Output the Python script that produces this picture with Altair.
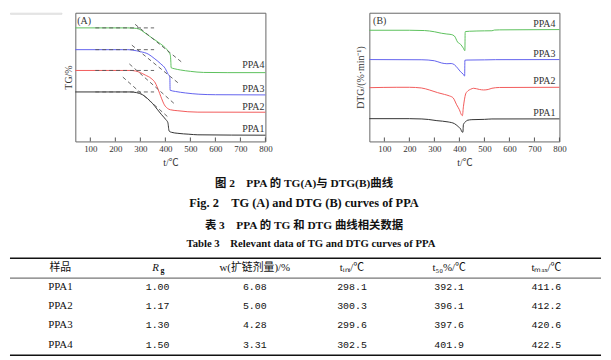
import altair as alt
import pandas as pd

SERIF = "Liberation Serif, Noto Sans CJK SC"
MONO = "Liberation Mono, Noto Sans CJK SC"
TXT = "#333333"

samples = ["PPA1", "PPA2", "PPA3", "PPA4"]
line_colors = ["#333333", "#f25a5a", "#6262ee", "#5cc05c"]
x_ticks = [100, 200, 300, 400, 500, 600, 700, 800]

# ---------- (A) TG curves: temperature (°C) / stacked TG level (arbitrary units) ----------
tg1_t = [40, 260, 285, 310, 330, 350, 369, 385, 402, 410, 415, 425, 450, 494, 530, 800]
tg1_v = [50, 50, 49.3, 47, 43, 38, 32, 27, 22, 19, 10.5, 9.2, 8.2, 7.3, 6.7, 6.3]
tg2_t = [40, 260, 280, 300, 320, 343, 360, 372, 382, 396, 408, 420, 450, 490, 530, 800]
tg2_v = [71.7, 71.7, 71.2, 69.5, 67, 63.7, 59, 52, 45.3, 37, 33.5, 32, 31, 30, 29.6, 29.5]
tg3_t = [40, 250, 270, 300, 331, 355, 382, 400, 410, 416, 418, 419, 440, 480, 534, 600, 800]
tg3_v = [92.7, 92.7, 92.2, 90.7, 88.3, 84, 78.3, 73.5, 68.3, 66, 64, 51.7, 50.5, 49, 47.7, 47.2, 47]
tg4_t = [40, 250, 275, 295, 311, 330, 350, 382, 400, 414, 420, 422, 423, 435, 460, 500, 553, 650, 800]
tg4_v = [114.7, 114.7, 114.4, 113.5, 111, 107.5, 104, 98.3, 94.5, 90, 87, 80, 74.5, 73.5, 72.2, 70.8, 69.7, 69.5, 69.5]

# onset construction lines (dashed): plateau extension and tangent, per sample
plateau_t = [120, 355]
tangent_t = [[230, 409], [256, 435], [266, 455], [279, 469]]
tangent_v = [[65, 25], [78.3, 38.3], [97.3, 58.3], [118.3, 79.3]]
tg_label_v = [9.3, 32, 50.3, 74.5]

# ---------- (B) DTG curves ----------
dtg1_t = [40, 200, 250, 276, 310, 355, 380, 394, 405, 411, 414, 416, 425, 431, 450, 500, 530, 800]
dtg1_v = [23, 23, 22.7, 22.2, 21, 19.7, 18, 15.3, 12.5, 9.5, 9.3, 17, 20, 21.3, 22, 22.3, 22.7, 22.8]
dtg2_t = [40, 150, 200, 248, 280, 313, 340, 360, 375, 389, 400, 408, 412, 416, 420, 425, 431, 445, 457, 480, 497, 515, 530, 560, 800]
dtg2_v = [54.3, 54.7, 54.7, 54, 52, 49.3, 47.5, 46, 44, 37, 32, 27, 26, 35, 42, 48, 50.3, 52.7, 53.7, 52.5, 52, 52.5, 53.7, 54.5, 54.7]
dtg3_t = [40, 250, 300, 328, 350, 367, 380, 393, 405, 415, 421, 422, 430, 500, 545, 800]
dtg3_v = [82.7, 82.5, 81.5, 79.3, 78.5, 78.7, 77.5, 74, 70.3, 68, 66, 82, 82.2, 82.4, 82.6, 82.7]
dtg4_t = [40, 200, 261, 300, 328, 350, 367, 380, 393, 405, 415, 422, 423, 424, 440, 500, 530, 540, 560, 800]
dtg4_v = [112.3, 112.3, 112, 110.8, 109.3, 108.5, 108, 106.5, 100.3, 98, 94.5, 91.7, 110, 111, 111.3, 111.7, 111.8, 112.5, 112.7, 113]
dtg_label_v = [26, 58, 85.3, 115.3]

# ---------- captions and table ----------
captions = ["图 2　PPA 的 TG(A)与 DTG(B)曲线",
            "Fig. 2　TG (A) and DTG (B) curves of PPA",
            "表 3　PPA 的 TG 和 DTG 曲线相关数据",
            "Table 3　Relevant data of TG and DTG curves of PPA"]
col_keys = ["c0", "c1", "c2", "c3", "c4", "c5"]
header_text = ["样品", "", "w(扩链剂量)/%", "tᵢₙᵢ/℃", "t₅₀%/℃", "tₘₐₓ/℃"]
rg_vals = ["1.00", "1.17", "1.30", "1.50"]
w_vals = ["6.08", "5.00", "4.28", "3.31"]
tini_vals = ["298.1", "300.3", "299.6", "302.5"]
t50_vals = ["392.1", "396.1", "397.6", "401.9"]
tmax_vals = ["411.6", "412.2", "420.6", "422.5"]

# ---------- build frames ----------
def curves(ts, vs):
    rows = []
    for s, t, v in zip(samples, ts, vs):
        rows += [{"sample": s, "t": a, "v": b} for a, b in zip(t, v)]
    return pd.DataFrame(rows)

tg_df = curves([tg1_t, tg2_t, tg3_t, tg4_t], [tg1_v, tg2_v, tg3_v, tg4_v])
dtg_df = curves([dtg1_t, dtg2_t, dtg3_t, dtg4_t], [dtg1_v, dtg2_v, dtg3_v, dtg4_v])

dash_rows = []
for i, s in enumerate(samples):
    plateau = tg_df[tg_df["sample"] == s]["v"].iloc[0]
    for t in plateau_t:
        dash_rows.append({"seg": s + "h", "t": t, "v": plateau})
    for t, v in zip(tangent_t[i], tangent_v[i]):
        dash_rows.append({"seg": s + "k", "t": t, "v": v})
dash_df = pd.DataFrame(dash_rows)

W, H = 192, 130
xs = alt.Scale(domain=[40, 800], nice=False, zero=False)
ys = alt.Scale(domain=[0, 130], nice=False, zero=False)
cscale = alt.Scale(domain=samples, range=line_colors)


def x_axis():
    return alt.Axis(values=x_ticks, ticks=False, domain=False, grid=False,
                    labelOverlap=False, labelBound=False, labelFlush=False,
                    labelFont=SERIF, labelFontSize=9, labelColor=TXT, labelPadding=3,
                    title="t/℃", titleFont=SERIF, titleFontSize=10, titleFontWeight="normal",
                    titleColor=TXT, titlePadding=4)


def y_axis(title, pad):
    return alt.Axis(title=title, labels=False, ticks=False, domain=False, grid=False,
                    titleFont=SERIF, titleFontSize=10, titleFontWeight="normal",
                    titleColor=TXT, titlePadding=pad)


def panel(df, ytitle, ypad, letter, letter_t, label_v, label_t, dashed=None):
    X = lambda: alt.X("t:Q", scale=xs, axis=x_axis())
    Y = lambda: alt.Y("v:Q", scale=ys, axis=y_axis(ytitle, ypad))
    lines = alt.Chart(df).mark_line(strokeWidth=1, interpolate="monotone").encode(
        x=X(), y=Y(),
        color=alt.Color("sample:N", scale=cscale, legend=None),
        detail="sample:N",
    )
    ticks = alt.Chart(pd.DataFrame({"t": x_ticks})).mark_rule(color="#555", strokeWidth=1).encode(
        x=X(), y=alt.value(H), y2=alt.value(H - 4))
    lab = alt.Chart(pd.DataFrame({"s": samples, "t": label_t, "v": label_v})).mark_text(
        align="right", baseline="alphabetic", font=SERIF, fontSize=10, color=TXT).encode(
        x=X(), y=Y(), text="s:N")
    let = alt.Chart(pd.DataFrame({"s": [letter], "t": [letter_t], "v": [122]})).mark_text(
        align="left", baseline="middle", font=SERIF, fontSize=10, color=TXT).encode(
        x=X(), y=Y(), text="s:N")
    layers = [lines]
    if dashed is not None:
        layers.append(alt.Chart(dashed).mark_line(strokeDash=[4, 3], strokeWidth=0.9, color="#555").encode(
            x=X(), y=Y(), detail="seg:N"))
    layers += [ticks, lab, let]
    return alt.layer(*layers).properties(
        width=W, height=H, view=alt.ViewBackground(stroke="#666", strokeWidth=1))


panelA = panel(tg_df, "TG/%", 2, "(A)", 48, tg_label_v, [796] * 4, dash_df)
panelB = panel(dtg_df, "DTG/(%·min⁻¹)", 4, "(B)", 55, dtg_label_v, [784] * 4)

spacer = alt.Chart(pd.DataFrame({"a": [0]})).mark_rule(opacity=0, strokeWidth=0.1).encode(
    x=alt.value(0), x2=alt.value(52), y=alt.value(0)).properties(width=52, height=1)

top = alt.hconcat(spacer, alt.hconcat(panelA, panelB, spacing=82), spacing=0)

# ---------- bottom: captions + table ----------
BW, BH = 597, 190
CAP_Y = [13, 32, 55, 74]
CAP_X = [297, 297, 297, 304]
CAP_SIZE = [11.5, 12.5, 11.5, 10.8]
RULES = [(88, 1.4, "#111"), (108, 1.2, "#777"), (186, 1.4, "#111")]
HEADER_Y = 98
ROW0, STEP = 117, 19.4

yb = alt.Scale(domain=[0, BH], reverse=True, nice=False, zero=False)
xb = alt.Scale(type="point", domain=col_keys, padding=0.54, align=0.48)

cap_df = pd.DataFrame({"txt": captions, "y": CAP_Y, "x": CAP_X, "fs": CAP_SIZE})
caps = alt.Chart(cap_df).mark_text(font=SERIF, fontWeight="bold", color="#111",
                                   baseline="middle").encode(
    x=alt.X("x:Q", scale=None, axis=None), y=alt.Y("y:Q", scale=yb, axis=None), text="txt:N",
    size=alt.Size("fs:Q", scale=None, legend=None))

rule_df = pd.DataFrame({"y": [r[0] for r in RULES], "w": [r[1] for r in RULES],
                        "c": [r[2] for r in RULES]})
rules = alt.Chart(rule_df).mark_rule().encode(
    x=alt.value(0), x2=alt.value(BW), y=alt.Y("y:Q", scale=yb, axis=None),
    strokeWidth=alt.StrokeWidth("w:Q", scale=None), color=alt.Color("c:N", scale=None))

hdr_df = pd.DataFrame({"col": col_keys, "txt": header_text, "y": [HEADER_Y] * 6})
hdr = alt.Chart(hdr_df).mark_text(font=SERIF, fontSize=11, color="#111", baseline="middle").encode(
    x=alt.X("col:N", scale=xb, axis=None, sort=col_keys), y=alt.Y("y:Q", scale=yb, axis=None),
    text="txt:N")
rg_main = alt.Chart(pd.DataFrame({"col": ["c1"], "txt": ["R"], "y": [HEADER_Y]})).mark_text(
    font=SERIF, fontSize=11, fontStyle="italic", color="#111", baseline="middle", dx=-2).encode(
    x=alt.X("col:N", scale=xb, axis=None, sort=col_keys), y=alt.Y("y:Q", scale=yb, axis=None),
    text="txt:N")
rg_sub = alt.Chart(pd.DataFrame({"col": ["c1"], "txt": ["g"], "y": [HEADER_Y]})).mark_text(
    font=SERIF, fontSize=8, fontWeight="bold", color="#111", baseline="middle", dx=5, dy=3).encode(
    x=alt.X("col:N", scale=xb, axis=None, sort=col_keys), y=alt.Y("y:Q", scale=yb, axis=None),
    text="txt:N")

name_rows, num_rows = [], []
for i, s in enumerate(samples):
    y = ROW0 + STEP * i
    name_rows.append({"col": "c0", "txt": s, "y": y})
    for c, vals in zip(col_keys[1:], [rg_vals, w_vals, tini_vals, t50_vals, tmax_vals]):
        num_rows.append({"col": c, "txt": vals[i], "y": y})
names = alt.Chart(pd.DataFrame(name_rows)).mark_text(font=SERIF, fontSize=11, color="#111",
                                                     baseline="middle").encode(
    x=alt.X("col:N", scale=xb, axis=None, sort=col_keys), y=alt.Y("y:Q", scale=yb, axis=None),
    text="txt:N")
nums = alt.Chart(pd.DataFrame(num_rows)).mark_text(font=MONO, fontSize=10, color="#111",
                                                   baseline="middle").encode(
    x=alt.X("col:N", scale=xb, axis=None, sort=col_keys), y=alt.Y("y:Q", scale=yb, axis=None),
    text="txt:N")

bottom = alt.layer(caps, rules, hdr, rg_main, rg_sub, names, nums).properties(
    width=BW, height=BH, view=alt.ViewBackground(stroke="transparent"))

chart = alt.vconcat(top, bottom, spacing=2).properties(
    padding={"left": 0, "top": 2, "right": 0, "bottom": 0}
).configure_view(stroke="transparent").configure(background="white")

chart.save("out.html", embed_options={"renderer": "svg", "actions": False})
